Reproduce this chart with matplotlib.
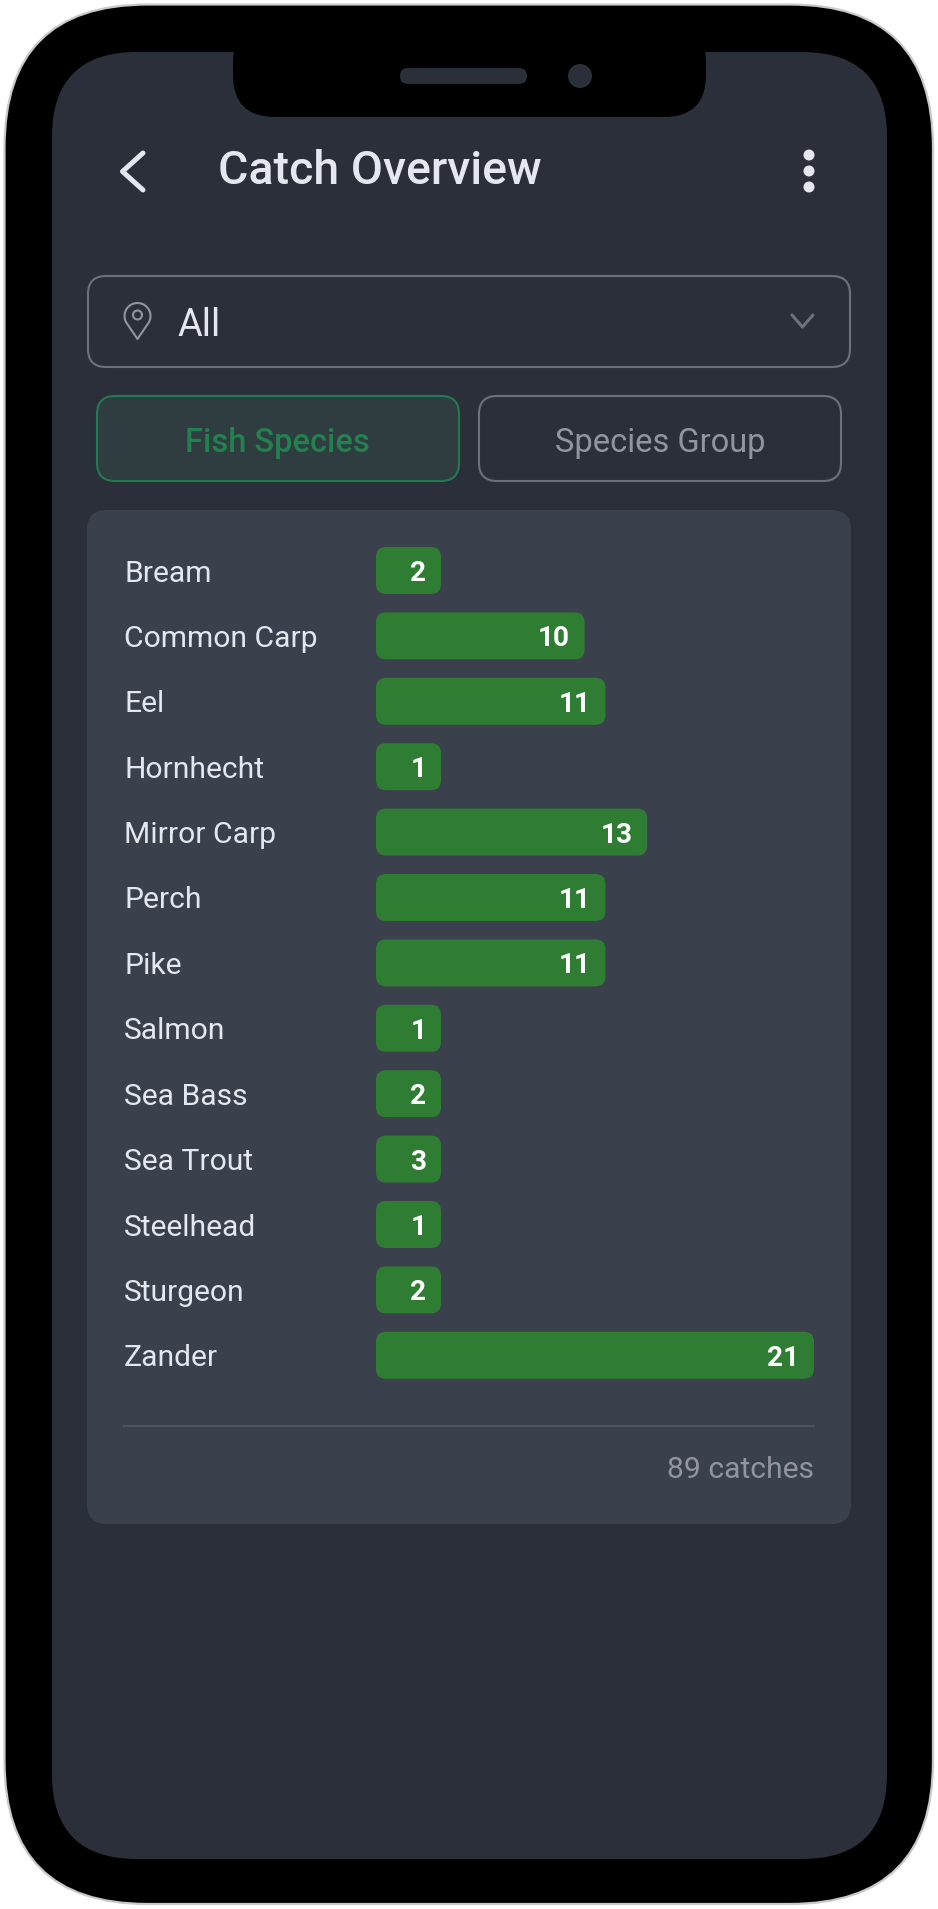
import numpy as np
import matplotlib
matplotlib.use("Agg")
import matplotlib.pyplot as plt
from matplotlib.patches import FancyBboxPatch, Circle, Polygon
from matplotlib.transforms import Bbox

species = ["Bream", "Common Carp", "Eel", "Hornhecht", "Mirror Carp", "Perch", "Pike",
           "Salmon", "Sea Bass", "Sea Trout", "Steelhead", "Sturgeon", "Zander"]
catches = [2, 10, 11, 1, 13, 11, 11, 1, 2, 3, 1, 2, 21]
title = "Catch Overview"
location = "All"
tabs = ["Fish Species", "Species Group"]
total_label = "89 catches"

W, H = 938, 1909
plt.rcParams["font.family"] = ["Roboto", "DejaVu Sans"]

PX = 0.72  # font size in pt for one pixel at dpi 100
SCREEN = "#2b2f3a"
CARD = "#3b414c"
GREEN = "#2e7d32"
LABEL = "#e4e7ef"
MUTED = "#92959f"
EDGE = "#6d717c"


def rounded(ax, x0, y0, x1, y1, r, **kw):
    p = FancyBboxPatch((x0, y0), x1 - x0, y1 - y0,
                       boxstyle=f"round,pad=0,rounding_size={r}", **kw)
    ax.add_patch(p)
    return p


fig = plt.figure(figsize=(W / 100, H / 100), dpi=100, facecolor="white")

# page furniture, in pixel coordinates
bg = fig.add_axes([0, 0, 1, 1])
bg.set_xlim(0, W)
bg.set_ylim(H, 0)
bg.axis("off")

rounded(bg, 4.5, 4.5, 933, 1904, 143, fc="black", ec="#c9c9c9", lw=1.6)
rounded(bg, 52, 52, 887, 1859, 85, fc=SCREEN, ec="none")

# notch
rounded(bg, 233, 20, 706, 117, 42, fc="black", ec="none")
rounded(bg, 400, 68, 527, 84, 8, fc=SCREEN, ec="none")
bg.add_patch(Circle((580, 76), 12, fc=SCREEN, ec="none"))

# header
bg.plot([143, 122.5, 143], [153, 171.5, 190], color=LABEL, lw=3.6, solid_capstyle="round",
        solid_joinstyle="round")
bg.text(218, 184, title, color=LABEL, fontsize=46.5 * PX, fontweight="medium", va="baseline", ha="left")
for y in [155, 171, 187]:
    bg.add_patch(Circle((809, y), 5.5, fc=LABEL, ec="none"))

# location dropdown
rounded(bg, 88, 276, 850, 367, 18, fc="none", ec=EDGE, lw=1.5)
t = np.linspace(np.radians(-30), np.radians(210), 40)
pin_x = 137.5 + 13 * np.cos(t)
pin_y = 316 - 13 * np.sin(t)
pin = np.column_stack([np.r_[pin_x, 137.5], np.r_[pin_y, 339]])
bg.add_patch(Polygon(pin, closed=True, fc="none", ec=MUTED, lw=1.5, joinstyle="round"))
bg.add_patch(Circle((137.5, 315), 4.5, fc="none", ec=MUTED, lw=1.5))
bg.text(177, 336, location, color=LABEL, fontsize=38 * PX, va="baseline", ha="left")
bg.plot([792, 802.5, 813], [315, 327, 315], color=EDGE, lw=2.2, solid_capstyle="round")

# tabs
rounded(bg, 97, 396, 459, 481, 18, fc="#2f3c40", ec="#237a50", lw=1.5)
rounded(bg, 479, 396, 841, 481, 18, fc="none", ec=EDGE, lw=1.5)
bg.text(277.5, 452, tabs[0], color="#23804f", fontsize=32.7 * PX, fontweight="medium",
        ha="center", va="baseline")
bg.text(660, 452, tabs[1], color=MUTED, fontsize=32.7 * PX, ha="center", va="baseline")

# card
rounded(bg, 87, 510, 851, 1524, 20, fc=CARD, ec="none")
bg.plot([124, 814], [1426, 1426], color="#4f545f", lw=1.5)
bg.text(814, 1478, total_label, color=MUTED, fontsize=30 * PX, ha="right", va="baseline")

# chart: 0 sits at x=376 px, 21 at x=814 px, one row is 65.4 px
row = 65.4
top = 570.5 - row / 2
bottom = top + row * len(species)
ax = fig.add_axes(Bbox.from_extents(376 / W, 1 - bottom / H, 814 / W, 1 - top / H))
ax.patch.set_alpha(0)
ax.set_xlim(0, 21)
ax.set_ylim(len(species) - 0.5, -0.5)
for s in ax.spines.values():
    s.set_visible(False)
ax.set_xticks([])
ax.set_yticks(range(len(species)))
ax.set_yticklabels(species, ha="left", color=LABEL, fontsize=30 * PX)
ax.tick_params(axis="y", length=0, pad=252 * PX)

x_unit = 438 / 21
min_width = 65 / x_unit  # short bars keep room for their number
bar_h = 47 / row
radius = 10 / x_unit
for i, v in enumerate(catches):
    w = max(v, min_width)
    ax.add_patch(FancyBboxPatch((0, i - bar_h / 2), w, bar_h,
                                boxstyle=f"round,pad=0,rounding_size={radius}",
                                mutation_aspect=x_unit / row, fc=GREEN, ec="none"))
    ax.annotate(str(v), (w, i), xytext=(-14.5 * PX, 0), textcoords="offset points",
                color="white", fontsize=28 * PX, fontweight="bold", ha="right", va="center_baseline")

fig.savefig("out.png", dpi=100)
